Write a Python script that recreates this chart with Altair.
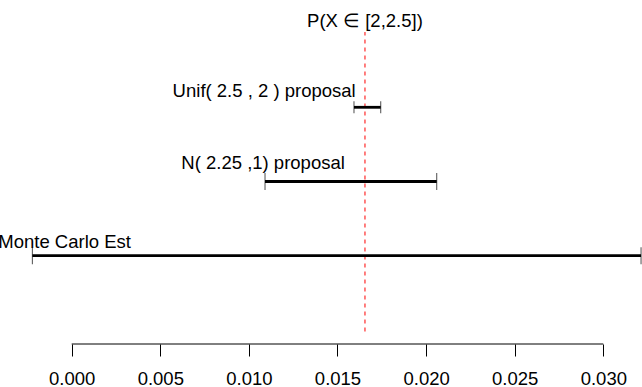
import altair as alt
import pandas as pd

# ---- data ----
labels = ["Unif( 2.5 , 2 ) proposal", "N( 2.25 ,1) proposal", "Monte Carlo Est"]
rows = [3, 2, 1]
lower = [0.01593, 0.01091, -0.00222]
upper = [0.01744, 0.02060, 0.03213]
label_x = [0.01086, 0.01080, -0.0004]
label_y = [3.135, 2.175, 1.10]

true_value = 0.01655
true_label = "P(X \u2208 [2,2.5])"
true_label_y = 4.08
true_line_y = [-0.02, 4.015]

tick_values = [0.000, 0.005, 0.010, 0.015, 0.020, 0.025, 0.030]

# ---- tables ----
bars = pd.DataFrame({"label": labels, "row": rows, "lower": lower, "upper": upper,
                     "lx": label_x, "ly": label_y})
caps = pd.DataFrame({
    "row": rows + rows,
    "x": lower + upper,
    "label": labels + labels,
})
truth = pd.DataFrame({"x": [true_value], "y": [true_line_y[0]], "y2": [true_line_y[1]],
                      "ty": [true_label_y], "text": [true_label]})
axis_df = pd.DataFrame({"a": [tick_values[0]], "b": [tick_values[-1]]})

FONT = "Liberation Sans"
FS = 18.5
XDOM = [-0.004046, 0.032184]
YDOM = [-0.190, 4.446]
xs = alt.Scale(domain=XDOM, nice=False, zero=False)
ys = alt.Scale(domain=YDOM, nice=False, zero=False)

x_axis = alt.Axis(values=tick_values, format=".3f", domain=False, grid=False,
                  tickSize=12, tickColor="black", tickWidth=1,
                  labelFontSize=FS, labelFont=FONT, labelColor="black",
                  labelPadding=13, labelFlush=False, labelOverlap=False, title=None)

bar_layer = alt.Chart(bars).mark_rule(color="black", strokeWidth=2.8).encode(
    x=alt.X("lower:Q", scale=xs, axis=x_axis),
    x2="upper:Q",
    y=alt.Y("row:Q", scale=ys, axis=None),
)

cap_layer = alt.Chart(caps).mark_tick(orient="vertical", color="black", thickness=1).encode(
    x=alt.X("x:Q", scale=xs, axis=x_axis),
    y=alt.Y("row:Q", scale=ys, axis=None),
    size=alt.condition(alt.datum.row == 3, alt.value(12), alt.value(17)),
)

label_layer = alt.Chart(bars).mark_text(font=FONT, fontSize=FS, color="black",
                                        align="center", baseline="alphabetic").encode(
    x=alt.X("lx:Q", scale=xs, axis=x_axis),
    y=alt.Y("ly:Q", scale=ys, axis=None),
    text="label:N",
)

true_rule = alt.Chart(truth).mark_rule(color="#ff3b3b", strokeWidth=1.3,
                                       strokeDash=[4, 4]).encode(
    x=alt.X("x:Q", scale=xs, axis=x_axis),
    y=alt.Y("y:Q", scale=ys, axis=None),
    y2="y2:Q",
)

true_text = alt.Chart(truth).mark_text(font=FONT, fontSize=FS, color="black",
                                       align="center", baseline="alphabetic").encode(
    x=alt.X("x:Q", scale=xs, axis=x_axis),
    y=alt.Y("ty:Q", scale=ys, axis=None),
    text="text:N",
)

axis_line = alt.Chart(axis_df).mark_rule(color="black", strokeWidth=1).encode(
    x=alt.X("a:Q", scale=xs, axis=x_axis),
    x2="b:Q",
    y=alt.datum(YDOM[0], scale=ys, axis=None),
)

chart = alt.layer(
    true_rule, bar_layer, cap_layer, label_layer, true_text, axis_line
).properties(
    width=642, height=344,
    padding={"left": 0, "top": 0, "right": 0, "bottom": 43},
    autosize=alt.AutoSizeParams(type="none"),
    background="white",
).configure_view(stroke=None, clip=False)

chart.save("out.html", embed_options={"renderer": "svg", "actions": False})
